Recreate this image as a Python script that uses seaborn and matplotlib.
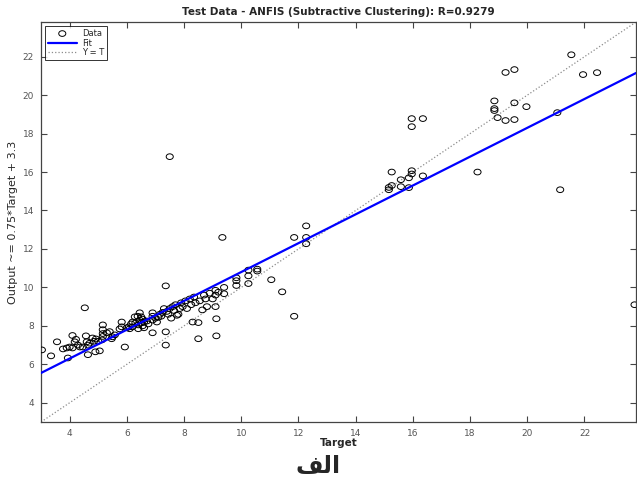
import numpy as np
import pandas as pd
from matplotlib import pyplot as plt
from matplotlib.path import Path
from matplotlib.transforms import Affine2D
import seaborn as sns

# test data (target, output)
target = [3.03, 3.35, 3.56, 3.77, 3.94, 3.9, 4.0, 4.1, 4.1, 4.18, 4.22, 4.29, 4.36, 4.46,
          4.53, 4.57, 4.6, 4.64, 4.64, 4.7, 4.8, 4.85, 4.92, 5.0, 4.9, 5.05, 5.13, 5.16,
          5.16, 5.16, 5.16,
          5.3, 5.4, 5.47, 5.5, 5.58, 5.75, 5.82, 5.82, 5.93, 6.0, 6.07, 6.15, 6.2, 6.28,
          6.38, 6.3, 6.4, 6.45, 6.5, 6.55, 6.6, 6.4, 6.45, 6.5, 6.55, 6.6, 6.7, 6.75, 6.2, 6.1,
          6.9, 6.9, 6.9, 6.9, 7.0, 7.05, 7.1, 7.15, 7.2, 7.25, 7.3, 7.36, 7.36, 7.36, 7.4,
          7.45, 7.5, 7.5, 7.55, 7.6, 7.65, 7.7, 7.75, 7.8, 7.85, 7.9, 7.95,
          8.05, 8.1, 8.2, 8.25, 8.3, 8.35, 8.4, 8.5, 8.5, 8.55, 8.64, 8.7, 8.75, 8.8, 8.9,
          9.0, 9.1, 9.1, 9.1, 9.13, 9.13, 9.34, 9.4, 9.4, 9.2,
          9.83, 9.83, 9.83, 10.25, 10.25, 10.25, 10.56, 10.56, 11.05, 11.43, 11.85, 11.85,
          12.27, 12.27, 12.27,
          15.16, 15.16, 15.26, 15.26, 15.58, 15.58, 15.86, 15.86, 15.96, 15.96, 15.96, 15.96,
          16.35, 16.35, 18.26, 18.85, 18.85, 18.85, 18.96, 19.24, 19.55, 19.24, 19.55, 19.55,
          19.97, 21.05, 21.15, 21.54, 21.95, 22.44, 23.75]
output = [6.75, 6.44, 7.17, 6.8, 6.33, 6.85, 6.9, 6.85, 7.5, 7.17, 7.3, 7.0, 6.9, 6.9,
          8.94, 7.48, 7.17, 6.5, 7.0, 7.1, 7.37, 7.2, 7.32, 7.2, 6.65, 6.7, 7.27, 8.05,
          7.8, 7.6, 7.45,
          7.64, 7.7, 7.33, 7.43, 7.53, 7.84, 8.2, 7.95, 6.9, 7.9, 7.95, 8.1, 7.95, 8.47,
          8.5, 8.15, 8.05, 8.3, 8.15, 8.35, 8.2, 7.85, 8.68, 8.47, 8.0, 7.9, 8.25, 8.1, 8.2, 7.85,
          7.64, 8.3, 8.5, 8.68, 8.4, 8.2, 8.45, 8.6, 8.5, 8.7, 8.9, 10.08, 7.69, 7.0, 8.75,
          8.6, 8.9, 16.8, 8.4, 9.0, 8.8, 9.1, 8.55, 8.6, 8.9, 9.2, 9.0,
          9.3, 8.9, 9.4, 9.1, 8.2, 9.5, 9.2, 8.17, 7.33, 9.3, 8.83, 9.6, 9.4, 9.0, 9.7,
          9.4, 9.85, 9.6, 9.0, 8.37, 7.48, 12.6, 9.67, 10.0, 9.75,
          10.5, 10.35, 10.1, 10.9, 10.6, 10.2, 10.95, 10.85, 10.4, 9.77, 8.5, 12.6,
          13.2, 12.6, 12.27,
          15.08, 15.2, 15.3, 16.0, 15.6, 15.24, 15.7, 15.19, 16.07, 15.9, 18.36, 18.78,
          18.78, 15.8, 16.0, 19.7, 19.3, 19.2, 18.83, 21.18, 21.33, 18.68, 18.73, 19.6,
          19.4, 19.09, 15.08, 22.1, 21.07, 21.17, 9.1]

slope = 0.75
intercept = 3.3
r_value = 0.9279
ticks = [4, 6, 8, 10, 12, 14, 16, 18, 20, 22]
lims = (3, 23.8)

df = pd.DataFrame({'Target': target, 'Output': output})

sns.set_style('ticks')
plt.rcParams['font.family'] = ['DejaVu Sans']

fig = plt.figure(figsize=(6.37, 4.83), dpi=100)
ax = fig.add_axes([0.0644, 0.1263, 0.934, 0.828])

# slightly wide open circles, like the reference
ring = Path.unit_circle().transformed(Affine2D().scale(1.25, 1.0))

line_x = np.array(lims)
fit_df = pd.DataFrame({'x': line_x, 'y': slope * line_x + intercept})
yt_df = pd.DataFrame({'x': line_x, 'y': line_x})

sns.scatterplot(data=df, x='Target', y='Output', marker=ring, s=26,
                facecolor='none', edgecolor='black', linewidth=0.7,
                label='Data', ax=ax, zorder=3)
sns.lineplot(data=fit_df, x='x', y='y', color='#0000ff', linewidth=1.6,
             label='Fit', ax=ax, zorder=4)
sns.lineplot(data=yt_df, x='x', y='y', color='#8c8c8c', linewidth=0.9,
             linestyle=':', label='Y = T', ax=ax, zorder=2)

ax.set_xlim(lims)
ax.set_ylim(lims)
ax.set_xticks(ticks)
ax.set_yticks(ticks)
ax.tick_params(direction='in', length=4, width=0.8, labelsize=6.5,
               labelcolor='#555555', color='#444444', top=True, right=True, pad=5)
for sp in ax.spines.values():
    sp.set_color('#444444')
    sp.set_linewidth(0.9)

ax.set_title('Test Data - ANFIS (Subtractive Clustering): R=%.4f' % r_value,
             fontsize=7.5, fontweight='bold', pad=5)
ax.set_xlabel('Target', fontsize=7.5, fontweight='bold', labelpad=0)
ax.set_ylabel('Output ~= %.2g*Target + %.2g' % (slope, intercept), fontsize=8, labelpad=3)

leg = ax.legend(loc='upper left', fontsize=6, frameon=True, fancybox=False,
                borderpad=0.3, handlelength=3.5, labelspacing=0.1, handletextpad=0.6,
                borderaxespad=0.5)
leg.get_frame().set_edgecolor('black')
leg.get_frame().set_linewidth(0.7)

# caption "الف" (shaped presentation forms, visual order)
fig.text(0.5, 0.035, '\ufed2\ufedf\ufe8d', ha='center', va='center',
         fontsize=17, fontweight='bold', family=['DejaVu Sans'])

fig.savefig('out.png', dpi=100, facecolor='white')
